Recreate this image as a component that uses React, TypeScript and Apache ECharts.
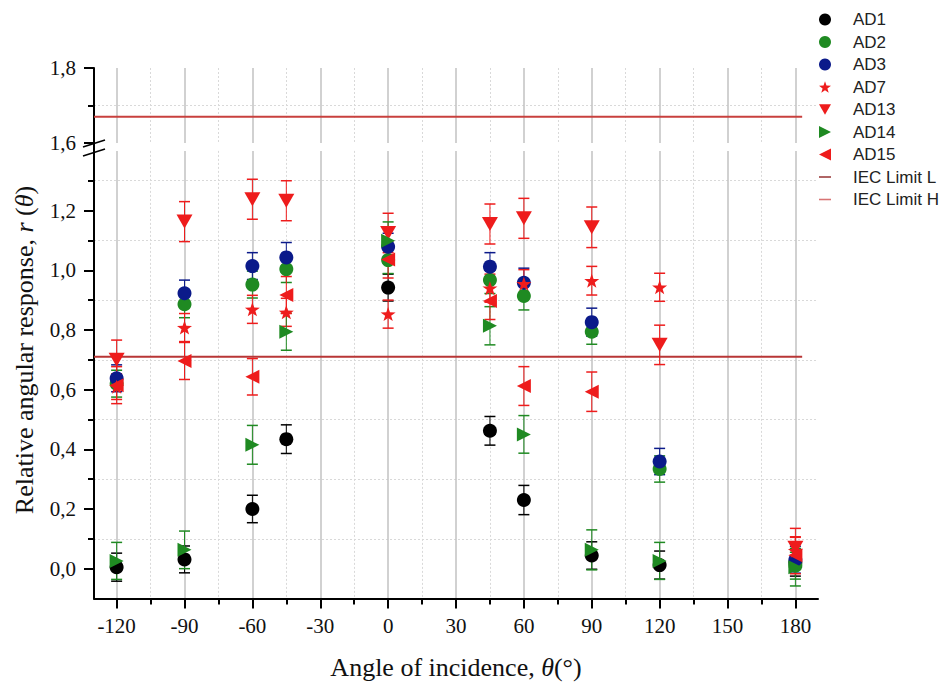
import React, { useEffect, useRef } from 'react';
import * as echarts from 'echarts';

// ---- data ----
const angles = [-120, -90, -60, -45, 0, 45, 60, 90, 120, 180];

const ad1 = [0.005, 0.031, 0.2, 0.434, 0.942, 0.462, 0.23, 0.044, 0.012, 0.02];
const ad1Err = [0.047, 0.045, 0.046, 0.048, 0.045, 0.048, 0.049, 0.046, 0.047, 0.045];
const ad2 = [0.62, 0.886, 0.952, 1.004, 1.034, 0.967, 0.914, 0.794, 0.334, 0.01];
const ad2Err = [0.045, 0.045, 0.045, 0.045, 0.045, 0.045, 0.047, 0.042, 0.044, 0.045];
const ad3 = [0.638, 0.923, 1.014, 1.043, 1.079, 1.012, 0.958, 0.826, 0.359, 0.03];
const ad3Err = [0.045, 0.044, 0.045, 0.05, 0.045, 0.047, 0.049, 0.047, 0.044, 0.045];
const ad7 = [0.61, 0.808, 0.869, 0.859, 0.853, 0.94, 0.955, 0.965, 0.943, 0.06];
const ad7Err = [0.043, 0.047, 0.047, 0.047, 0.047, 0.047, 0.047, 0.048, 0.047, 0.045];
const ad13 = [0.7, 1.163, 1.238, 1.233, 1.125, 1.155, 1.174, 1.144, 0.75, 0.07];
const ad13Err = [0.066, 0.067, 0.067, 0.067, 0.066, 0.067, 0.067, 0.068, 0.066, 0.065];
const ad14 = [0.026, 0.063, 0.415, 0.794, 1.099, 0.814, 0.45, 0.063, 0.026, 0.005];
const ad14Err = [0.062, 0.063, 0.065, 0.062, 0.063, 0.064, 0.063, 0.067, 0.062, 0.063];
const ad15: (number | null)[] = [0.615, 0.696, 0.643, 0.917, 1.036, 0.897, 0.612, 0.593, null, 0.045];
const ad15Err = [0.062, 0.062, 0.061, 0.062, 0.062, 0.062, 0.065, 0.066, 0.062, 0.062];

const iecLimitL = 0.71;
const iecLimitH = 1.67;
const iecLineX = [-130, 183];

const xRange = [-130, 190];
const xMajorTicks = [-120, -90, -60, -30, 0, 30, 60, 90, 120, 150, 180];
const xMinorTicks = [-105, -75, -45, -15, 15, 45, 75, 105, 135, 165];
const yLowerRange = [-0.1, 1.4];
const yLowerMajor = [0, 0.2, 0.4, 0.6, 0.8, 1.0, 1.2];
const yLowerMinor = [0.1, 0.3, 0.5, 0.7, 0.9, 1.1, 1.3];
const yUpperRange = [1.6, 1.8];
const yUpperMajor = [1.6, 1.8];
const yUpperMinor = [1.7];

const markerNames = ['AD1', 'AD2', 'AD3', 'AD7', 'AD13', 'AD14', 'AD15'];
const limitNames = ['IEC Limit L', 'IEC Limit H'];

// ---- styles ----
const SERIF = "'Liberation Serif', 'Times New Roman', serif";
const SANS = "'Liberation Sans', Arial, sans-serif";
const BLACK = '#000000';
const GREEN = '#1f8a22';
const NAVY = '#0b1a8a';
const RED = '#ee1c1c';
const IEC_L_COLOR = '#b83636';
const IEC_H_COLOR = '#c8403e';
const IEC_L_LEGEND = '#9a3a3a';
const IEC_H_LEGEND = '#d87474';

const STAR = 'path://M10,0L12.35,6.76L19.51,6.91L13.8,11.24L15.88,18.09L10,14L4.12,18.09L6.2,11.24L0.49,6.91L7.65,6.76Z';
const TRI_DOWN = 'path://M0,0L16,0L8,14Z';
const TRI_RIGHT = 'path://M0,0L14,7L0,14Z';
const TRI_LEFT = 'path://M14,0L0,7L14,14Z';
const DASH = 'path://M0,0H10V1.3H0Z';

const seriesDefs = [
  { name: 'AD1', values: ad1, err: ad1Err, color: BLACK, symbol: 'circle', size: [14, 14] },
  { name: 'AD2', values: ad2, err: ad2Err, color: GREEN, symbol: 'circle', size: [14, 14] },
  { name: 'AD3', values: ad3, err: ad3Err, color: NAVY, symbol: 'circle', size: [14, 14] },
  { name: 'AD7', values: ad7, err: ad7Err, color: RED, symbol: STAR, size: [15, 14] },
  { name: 'AD13', values: ad13, err: ad13Err, color: RED, symbol: TRI_DOWN, size: [16, 14] },
  { name: 'AD14', values: ad14, err: ad14Err, color: GREEN, symbol: TRI_RIGHT, size: [14, 14] },
  { name: 'AD15', values: ad15, err: ad15Err, color: RED, symbol: TRI_LEFT, size: [14, 14] },
];

const fmtY = (v: number) => v.toFixed(1).replace('.', ',');

function buildOption() {
  const majorSplit = { show: true, lineStyle: { color: '#c2c2c2', width: 1.5, type: 'solid' } };
  const minorSplit = { show: true, lineStyle: { color: '#d9d9d9', width: 1, type: [2, 2] } };
  const tickLabel = { color: '#111', fontFamily: SERIF, fontSize: 21 };

  const xAxis: any[] = [
    {
      gridIndex: 0, type: 'value', min: xRange[0], max: xRange[1], position: 'bottom',
      axisLine: { show: false, onZero: false },
      axisTick: { show: false, customValues: xMajorTicks },
      axisLabel: { show: false, customValues: xMajorTicks },
      splitLine: majorSplit,
    },
    {
      gridIndex: 0, type: 'value', min: xRange[0], max: xRange[1], position: 'bottom',
      axisLine: { show: false, onZero: false },
      axisTick: { show: false, customValues: xMinorTicks },
      axisLabel: { show: false, customValues: xMinorTicks },
      splitLine: minorSplit,
    },
    {
      gridIndex: 1, type: 'value', min: xRange[0], max: xRange[1], position: 'bottom',
      axisLine: { show: true, onZero: false, lineStyle: { color: BLACK, width: 2 } },
      axisTick: { show: true, customValues: xMajorTicks, length: 10, lineStyle: { color: BLACK, width: 2 } },
      axisLabel: { show: true, customValues: xMajorTicks, margin: 17, hideOverlap: false, ...tickLabel },
      splitLine: majorSplit,
      name: 'Angle of incidence, {i|θ}(°)',
      nameLocation: 'middle',
      nameGap: 56,
      nameTextStyle: {
        color: '#111', fontFamily: SERIF, fontSize: 26,
        rich: { i: { fontStyle: 'italic', fontFamily: SERIF, fontSize: 26, color: '#111' } },
      },
    },
    {
      gridIndex: 1, type: 'value', min: xRange[0], max: xRange[1], position: 'bottom',
      axisLine: { show: false, onZero: false },
      axisTick: { show: true, customValues: xMinorTicks, length: 6, lineStyle: { color: BLACK, width: 2 } },
      axisLabel: { show: false, customValues: xMinorTicks },
      splitLine: minorSplit,
    },
  ];

  const yAxis: any[] = [
    {
      gridIndex: 0, type: 'value', min: yUpperRange[0], max: yUpperRange[1], position: 'left',
      axisLine: { show: true, onZero: false, lineStyle: { color: BLACK, width: 2 } },
      axisTick: { show: true, customValues: yUpperMajor, length: 10, lineStyle: { color: BLACK, width: 2 } },
      axisLabel: { show: true, customValues: yUpperMajor, margin: 18, formatter: fmtY, hideOverlap: false, ...tickLabel },
      splitLine: { show: false },
    },
    {
      gridIndex: 0, type: 'value', min: yUpperRange[0], max: yUpperRange[1], position: 'left',
      axisLine: { show: false, onZero: false },
      axisTick: { show: true, customValues: yUpperMinor, length: 6, lineStyle: { color: BLACK, width: 2 } },
      axisLabel: { show: false, customValues: yUpperMinor },
      splitLine: minorSplit,
    },
    {
      gridIndex: 1, type: 'value', min: yLowerRange[0], max: yLowerRange[1], position: 'left',
      axisLine: { show: true, onZero: false, lineStyle: { color: BLACK, width: 2 } },
      axisTick: { show: true, customValues: yLowerMajor, length: 10, lineStyle: { color: BLACK, width: 2 } },
      axisLabel: { show: true, customValues: yLowerMajor, margin: 18, formatter: fmtY, hideOverlap: false, ...tickLabel },
      splitLine: { show: false },
    },
    {
      gridIndex: 1, type: 'value', min: yLowerRange[0], max: yLowerRange[1], position: 'left',
      axisLine: { show: false, onZero: false },
      axisTick: { show: true, customValues: yLowerMinor, length: 6, lineStyle: { color: BLACK, width: 2 } },
      axisLabel: { show: false, customValues: yLowerMinor },
      splitLine: minorSplit,
    },
  ];

  const series: any[] = [];

  series.push({
    name: 'IEC Limit L', type: 'line', xAxisIndex: 2, yAxisIndex: 2,
    data: iecLineX.map((x) => [x, iecLimitL]),
    symbol: 'none', lineStyle: { color: IEC_L_COLOR, width: 2 }, itemStyle: { color: IEC_L_LEGEND }, z: 1,
  });
  series.push({
    name: 'IEC Limit H', type: 'line', xAxisIndex: 0, yAxisIndex: 0,
    data: iecLineX.map((x) => [x, iecLimitH]),
    symbol: 'none', lineStyle: { color: IEC_H_COLOR, width: 2 }, itemStyle: { color: IEC_H_LEGEND }, z: 1,
  });

  seriesDefs.forEach((d) => {
    const errData: number[][] = [];
    const ptData: number[][] = [];
    angles.forEach((a, i) => {
      const v = d.values[i];
      if (v === null || v === undefined) return;
      ptData.push([a, v]);
      errData.push([a, v, d.err[i]]);
    });
    series.push({
      name: d.name + ' error', type: 'custom', xAxisIndex: 2, yAxisIndex: 2, z: 2,
      encode: { x: 0, y: 1 },
      data: errData,
      renderItem: (params: any, api: any) => {
        const x = api.value(0);
        const y = api.value(1);
        const e = api.value(2);
        const top = api.coord([x, y + e]);
        const bot = api.coord([x, y - e]);
        const hw = 5.5;
        const capStyle = { stroke: d.color, lineWidth: 1.5 };
        return {
          type: 'group',
          children: [
            { type: 'line', shape: { x1: top[0], y1: top[1], x2: bot[0], y2: bot[1] }, style: { stroke: d.color, lineWidth: 1 } },
            { type: 'line', shape: { x1: top[0] - hw, y1: top[1], x2: top[0] + hw, y2: top[1] }, style: capStyle },
            { type: 'line', shape: { x1: bot[0] - hw, y1: bot[1], x2: bot[0] + hw, y2: bot[1] }, style: capStyle },
          ],
        };
      },
    });
    series.push({
      name: d.name, type: 'scatter', xAxisIndex: 2, yAxisIndex: 2, z: 3,
      data: ptData, symbol: d.symbol, symbolSize: d.size,
      itemStyle: { color: d.color, opacity: 1 },
    });
  });

  const legendData: any[] = [
    ...markerNames.map((n) => ({ name: n })),
    { name: limitNames[0], icon: DASH, itemStyle: { color: IEC_L_LEGEND } },
    { name: limitNames[1], icon: DASH, itemStyle: { color: IEC_H_LEGEND } },
  ];

  return {
    animation: false,
    backgroundColor: '#ffffff',
    grid: [
      { left: 94, top: 68, width: 724, height: 75, outerBoundsMode: 'none', containLabel: false },
      { left: 94, top: 150.9, width: 724, height: 447.6, outerBoundsMode: 'none', containLabel: false },
    ],
    legend: {
      orient: 'vertical',
      left: 819,
      top: 11,
      padding: 0,
      itemWidth: 12,
      itemHeight: 12,
      itemGap: 5.5,
      data: legendData,
      textStyle: { fontFamily: SANS, fontSize: 17, color: '#222', padding: [0, 0, 0, 17] },
      selectedMode: false,
    },
    xAxis,
    yAxis,
    series,
    graphic: [
      {
        type: 'line', z: 100,
        shape: { x1: 94, y1: 143, x2: 94, y2: 151 },
        style: { stroke: BLACK, lineWidth: 2 },
      },
      {
        type: 'line', z: 100,
        shape: { x1: 83, y1: 147, x2: 105, y2: 140 },
        style: { stroke: BLACK, lineWidth: 1.5 },
      },
      {
        type: 'line', z: 100,
        shape: { x1: 83, y1: 156, x2: 105, y2: 149 },
        style: { stroke: BLACK, lineWidth: 1.5 },
      },
      {
        type: 'text', z: 100,
        x: 24, y: 350, rotation: Math.PI / 2,
        style: {
          text: 'Relative angular response, {i|r} ({i|θ})',
          fontFamily: SERIF, fontSize: 26, fill: '#111',
          align: 'center', verticalAlign: 'middle',
          textAlign: 'center', textVerticalAlign: 'middle',
          rich: { i: { fontStyle: 'italic', fontFamily: SERIF, fontSize: 26, fill: '#111' } },
        },
      },
    ],
  };
}

export default function App() {
  const ref = useRef<HTMLDivElement>(null);
  useEffect(() => {
    if (!ref.current) return;
    const chart = echarts.init(ref.current, undefined, { renderer: 'svg', width: 952, height: 685 });
    chart.setOption(buildOption() as any);
    return () => chart.dispose();
  }, []);
  return (
    <div
      ref={ref}
      style={{ position: 'fixed', left: 0, top: 0, width: 952, height: 685, background: '#fff' }}
    />
  );
}
